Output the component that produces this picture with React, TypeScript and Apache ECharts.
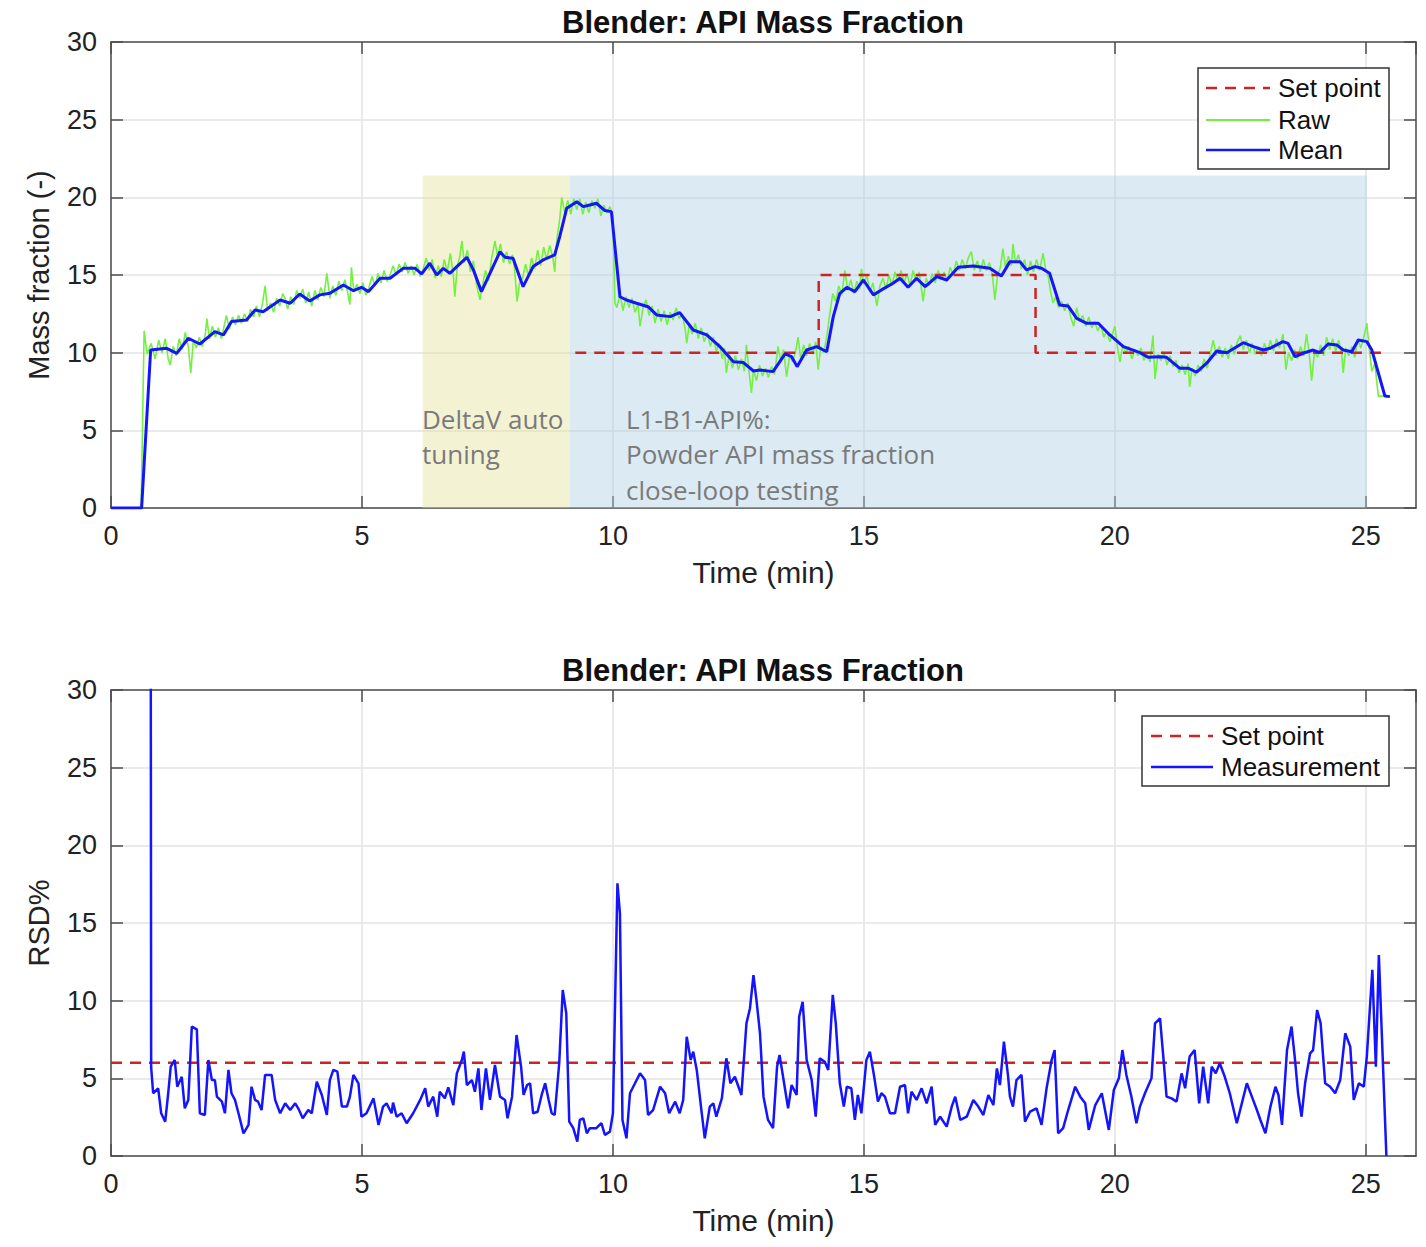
import React, { useEffect, useRef } from "react";
import * as echarts from "echarts";

// ---------------- DATA ----------------
const titleText = "Blender: API Mass Fraction";
const xTicks = [0, 5, 10, 15, 20, 25];
const yTicks = [0, 5, 10, 15, 20, 25, 30];

// Top chart: set point (time, value)
const setPointTop: [number, number][] = [
  [9.25, 10], [14.1, 10], [14.1, 15], [18.42, 15], [18.42, 10], [25.4, 10],
];

// Top chart: mean mass fraction (time, value)
const meanTop: [number, number][] = [
  [0, 0], [0.61, 0], [0.79, 10.17], [1.11, 10.28], [1.31, 9.96], [1.54, 10.93], [1.77, 10.56],
  [2.07, 11.35], [2.24, 11.14], [2.4, 12.0], [2.7, 12.1], [2.87, 12.75], [3.03, 12.64],
  [3.37, 13.39], [3.57, 13.18], [3.76, 13.78], [3.96, 13.33], [4.16, 13.72], [4.36, 13.82],
  [4.63, 14.36], [4.83, 13.99], [4.99, 14.21], [5.13, 13.93], [5.36, 14.79], [5.56, 14.79],
  [5.82, 15.43], [6.06, 15.43], [6.19, 15.07], [6.35, 15.76], [6.49, 15.0], [6.62, 15.43],
  [6.75, 15.11], [6.89, 15.54], [7.09, 16.14], [7.22, 15.33], [7.38, 13.93], [7.55, 15.11],
  [7.75, 16.5], [7.85, 16.14], [8.01, 16.08], [8.21, 14.25], [8.41, 15.54], [8.61, 15.97],
  [8.84, 16.29], [8.94, 17.47], [9.08, 19.3], [9.28, 19.72], [9.41, 19.4], [9.54, 19.51],
  [9.67, 19.62], [9.84, 19.15], [9.97, 19.08], [10.14, 13.6], [10.27, 13.39], [10.47, 13.18],
  [10.7, 12.96], [10.87, 12.43], [11.14, 12.32], [11.33, 12.58], [11.6, 11.46], [11.87, 11.14],
  [12.13, 10.39], [12.4, 9.42], [12.6, 9.36], [12.8, 8.82], [12.93, 8.89], [13.19, 8.78],
  [13.43, 9.92], [13.56, 9.74], [13.67, 9.1], [13.86, 10.17], [14.06, 10.39], [14.26, 10.06],
  [14.39, 12.32], [14.52, 13.82], [14.66, 14.21], [14.82, 13.93], [14.99, 14.68], [15.19, 13.72],
  [15.35, 14.04], [15.58, 14.47], [15.72, 14.79], [15.88, 14.21], [16.05, 14.79], [16.22, 14.25],
  [16.45, 14.9], [16.65, 14.68], [16.88, 15.5], [17.18, 15.58], [17.51, 15.43], [17.74, 14.94],
  [17.91, 15.86], [18.11, 15.86], [18.24, 15.33], [18.41, 15.54], [18.54, 15.43], [18.7, 15.11],
  [18.9, 13.07], [19.07, 13.0], [19.24, 12.21], [19.44, 11.89], [19.67, 11.89], [19.9, 11.14],
  [20.17, 10.39], [20.5, 10.0], [20.66, 9.7], [20.9, 9.74], [21.03, 9.7], [21.29, 9.0],
  [21.46, 9.0], [21.63, 8.74], [21.83, 9.32], [22.03, 10.11], [22.23, 10.0], [22.56, 10.64],
  [22.76, 10.39], [22.96, 10.17], [23.09, 10.28], [23.35, 10.71], [23.45, 10.6], [23.59, 9.74],
  [23.75, 9.96], [23.95, 10.17], [24.08, 10.0], [24.25, 10.56], [24.42, 10.5], [24.55, 10.17],
  [24.72, 10.06], [24.85, 10.82], [25.02, 10.71], [25.12, 10.17], [25.38, 7.21], [25.48, 7.17],
];

// Top chart: raw mass fraction (time, value)
const rawTop: [number, number][] = [
  [0, 0], [0.6, 0], [0.66, 11.4], [0.72, 9.9], [0.8, 10.6], [0.88, 9.6], [0.95, 10.8], [1.02, 10.0],
  [1.08, 10.9], [1.14, 9.6], [1.18, 9.2], [1.24, 10.4], [1.3, 9.8], [1.36, 10.9], [1.42, 10.2],
  [1.48, 11.3], [1.54, 10.4], [1.59, 8.7], [1.64, 10.8], [1.7, 10.3], [1.76, 11.0], [1.82, 10.4],
  [1.88, 11.2], [1.91, 12.2], [1.96, 10.9], [2.02, 11.7], [2.08, 11.0], [2.14, 11.6], [2.2, 10.9],
  [2.26, 11.8], [2.3, 12.4], [2.36, 11.5], [2.42, 12.3], [2.48, 11.8], [2.54, 12.4], [2.6, 11.9],
  [2.66, 12.5], [2.72, 12.0], [2.78, 12.8], [2.84, 12.3], [2.9, 13.0], [2.96, 12.3], [3.02, 13.2],
  [3.07, 14.3], [3.12, 12.7], [3.18, 13.2], [3.24, 12.6], [3.3, 13.5], [3.36, 13.0], [3.42, 13.8],
  [3.47, 13.5], [3.52, 12.8], [3.58, 13.6], [3.64, 13.1], [3.7, 14.0], [3.76, 13.5], [3.82, 14.1],
  [3.88, 13.2], [3.94, 13.9], [4.0, 13.0], [4.06, 14.0], [4.12, 13.4], [4.18, 14.2], [4.24, 13.6],
  [4.3, 15.1], [4.36, 13.5], [4.42, 14.3], [4.48, 13.7], [4.54, 14.6], [4.6, 14.0], [4.66, 14.7],
  [4.72, 13.8], [4.76, 13.1], [4.79, 15.5], [4.84, 13.9], [4.9, 14.4], [4.96, 13.8], [5.02, 14.5],
  [5.08, 13.7], [5.14, 14.2], [5.2, 14.9], [5.26, 14.3], [5.32, 15.1], [5.38, 14.5], [5.44, 15.3],
  [5.5, 14.6], [5.56, 15.0], [5.62, 15.6], [5.68, 15.0], [5.74, 15.7], [5.8, 15.2], [5.86, 15.8],
  [5.92, 15.1], [5.98, 15.6], [6.04, 15.0], [6.1, 15.7], [6.16, 14.9], [6.22, 15.4], [6.28, 16.1],
  [6.34, 15.3], [6.4, 16.0], [6.46, 14.8], [6.52, 15.6], [6.58, 14.9], [6.64, 16.0], [6.7, 15.2],
  [6.76, 16.4], [6.82, 15.0], [6.85, 13.6], [6.9, 15.6], [6.95, 16.2], [6.99, 17.2], [7.04, 15.8],
  [7.1, 16.6], [7.16, 15.2], [7.22, 15.9], [7.28, 14.4], [7.35, 13.4], [7.4, 14.3], [7.46, 15.3],
  [7.52, 14.6], [7.58, 16.0], [7.65, 17.2], [7.7, 16.2], [7.76, 17.0], [7.82, 15.8], [7.88, 16.5],
  [7.94, 15.7], [8.0, 16.3], [8.04, 15.4], [8.09, 13.3], [8.14, 14.5], [8.2, 14.8], [8.26, 15.7],
  [8.32, 14.9], [8.38, 16.1], [8.44, 15.4], [8.5, 16.6], [8.56, 15.6], [8.62, 16.8], [8.68, 16.0],
  [8.74, 16.9], [8.8, 16.2], [8.84, 15.2], [8.88, 17.2], [8.94, 18.6], [8.98, 20.0], [9.04, 19.0],
  [9.1, 19.8], [9.16, 18.9], [9.22, 19.9], [9.28, 19.2], [9.34, 19.9], [9.4, 18.9], [9.46, 19.7],
  [9.52, 19.0], [9.58, 19.8], [9.64, 19.3], [9.7, 19.9], [9.76, 18.8], [9.82, 19.5], [9.88, 19.0],
  [9.94, 19.4], [10.0, 18.8], [10.04, 13.2], [10.08, 12.9], [10.14, 13.8], [10.2, 12.7], [10.26, 13.6],
  [10.32, 12.9], [10.38, 13.5], [10.44, 12.6], [10.5, 13.1], [10.54, 11.7], [10.6, 12.9], [10.66, 13.4],
  [10.72, 12.4], [10.78, 13.0], [10.84, 11.9], [10.9, 12.8], [10.96, 12.0], [11.02, 12.7], [11.08, 11.8],
  [11.14, 12.6], [11.2, 12.1], [11.26, 12.9], [11.32, 12.2], [11.38, 12.5], [11.44, 11.5], [11.47, 10.6],
  [11.52, 11.8], [11.58, 11.2], [11.64, 11.9], [11.7, 10.9], [11.76, 11.6], [11.82, 10.7], [11.88, 11.3],
  [11.94, 10.4], [12.0, 11.0], [12.06, 10.1], [12.12, 10.6], [12.18, 9.6], [12.22, 10.3], [12.26, 8.7],
  [12.32, 9.9], [12.38, 9.0], [12.44, 9.8], [12.5, 8.9], [12.56, 9.6], [12.62, 8.8], [12.66, 10.5],
  [12.7, 9.1], [12.76, 7.4], [12.8, 8.9], [12.86, 8.2], [12.92, 9.2], [12.98, 8.5], [13.04, 9.0],
  [13.1, 8.4], [13.16, 9.1], [13.22, 8.6], [13.29, 10.4], [13.34, 9.5], [13.4, 10.2], [13.46, 8.45],
  [13.52, 9.8], [13.58, 9.4], [13.64, 10.1], [13.69, 11.0], [13.74, 9.6], [13.8, 10.5], [13.86, 9.8],
  [13.92, 10.6], [13.98, 9.9], [14.04, 10.7], [14.09, 8.9], [14.14, 10.4], [14.2, 10.0], [14.26, 11.0],
  [14.32, 12.5], [14.38, 13.8], [14.44, 13.3], [14.5, 14.3], [14.56, 13.7], [14.62, 15.3], [14.68, 14.0],
  [14.74, 14.7], [14.8, 13.8], [14.86, 14.6], [14.92, 14.1], [14.95, 15.4], [15.0, 14.4], [15.06, 15.0],
  [15.12, 13.9], [15.18, 14.5], [15.26, 13.0], [15.32, 14.3], [15.38, 14.8], [15.44, 14.1], [15.5, 15.0],
  [15.56, 14.3], [15.62, 15.2], [15.68, 14.6], [15.74, 15.3], [15.8, 14.5], [15.86, 15.1], [15.92, 14.3],
  [15.98, 15.3], [16.04, 14.6], [16.1, 15.2], [16.18, 13.3], [16.24, 14.8], [16.3, 14.3], [16.36, 15.1],
  [16.42, 14.5], [16.48, 15.3], [16.54, 14.7], [16.6, 15.2], [16.66, 14.6], [16.72, 15.5], [16.78, 15.0],
  [16.84, 15.9], [16.9, 15.3], [16.96, 16.0], [17.02, 15.4], [17.08, 16.1], [17.14, 16.5], [17.2, 15.3],
  [17.26, 15.9], [17.32, 15.2], [17.38, 16.0], [17.44, 15.3], [17.5, 15.8], [17.56, 15.0], [17.61, 13.4],
  [17.66, 14.9], [17.72, 15.5], [17.77, 16.7], [17.82, 15.5], [17.88, 16.2], [17.94, 15.6], [17.97, 17.0],
  [18.02, 15.8], [18.08, 16.3], [18.14, 15.4], [18.2, 16.0], [18.26, 15.0], [18.32, 15.9], [18.38, 15.2],
  [18.44, 16.0], [18.5, 15.3], [18.57, 16.4], [18.62, 15.4], [18.68, 14.8], [18.72, 13.9], [18.77, 13.2],
  [18.82, 13.6], [18.88, 12.9], [18.94, 13.3], [19.0, 12.7], [19.06, 13.2], [19.12, 12.3], [19.18, 11.7],
  [19.24, 12.9], [19.3, 12.0], [19.36, 12.4], [19.42, 11.7], [19.48, 12.3], [19.54, 11.6], [19.6, 12.0],
  [19.66, 11.4], [19.72, 11.8], [19.78, 11.0], [19.84, 11.4], [19.9, 10.7], [19.95, 11.2], [20.0, 11.7],
  [20.05, 10.4], [20.1, 9.4], [20.16, 10.5], [20.22, 10.0], [20.28, 10.4], [20.34, 9.6], [20.4, 10.2],
  [20.46, 9.8], [20.52, 10.3], [20.58, 9.5], [20.64, 10.0], [20.7, 9.4], [20.76, 11.1], [20.8, 8.3],
  [20.86, 9.9], [20.92, 9.5], [20.98, 10.0], [21.04, 9.2], [21.1, 9.8], [21.16, 9.1], [21.22, 9.5],
  [21.28, 8.7], [21.34, 9.2], [21.4, 8.6], [21.46, 9.3], [21.49, 7.8], [21.54, 9.0], [21.6, 8.5],
  [21.66, 9.2], [21.72, 8.8], [21.78, 9.6], [21.84, 9.0], [21.9, 9.9], [21.96, 10.8], [22.02, 9.8],
  [22.08, 10.4], [22.14, 9.7], [22.2, 10.3], [22.26, 9.6], [22.32, 10.5], [22.38, 9.9], [22.44, 10.7],
  [22.5, 11.1], [22.56, 10.2], [22.62, 10.8], [22.68, 10.0], [22.74, 10.6], [22.8, 9.9], [22.86, 10.4],
  [22.92, 9.8], [22.98, 10.6], [23.04, 10.0], [23.1, 10.8], [23.16, 10.1], [23.22, 10.9], [23.28, 10.3],
  [23.35, 11.2], [23.41, 8.9], [23.46, 10.0], [23.52, 9.5], [23.58, 10.2], [23.64, 9.6], [23.7, 10.4],
  [23.76, 9.8], [23.82, 11.2], [23.87, 10.0], [23.92, 8.2], [23.98, 10.1], [24.04, 9.7], [24.1, 10.5],
  [24.16, 9.8], [24.22, 11.0], [24.28, 10.2], [24.34, 10.9], [24.4, 10.1], [24.46, 10.8], [24.52, 9.9],
  [24.55, 8.7], [24.6, 10.3], [24.66, 9.8], [24.72, 10.4], [24.78, 9.7], [24.84, 10.9], [24.9, 10.3],
  [24.96, 11.0], [25.02, 11.9], [25.07, 10.2], [25.12, 8.8], [25.18, 9.3], [25.25, 7.2], [25.44, 7.2],
];

// Shaded test phases (time start, time end, top value)
const phaseAutoTuning = [6.21, 9.14, 21.4];
const phaseCloseLoop = [9.14, 25.02, 21.4];

// Bottom chart: RSD set point and measurement
const setPointBottom: [number, number][] = [[0, 6], [25.48, 6]];
const rsdMeasurement: [number, number][] = [
  [0.79, 40], [0.8, 5.7], [0.84, 4.04], [0.94, 4.36], [1.0, 2.75], [1.08, 2.21], [1.14, 4.04],
  [1.19, 5.75], [1.27, 6.18], [1.32, 4.46], [1.41, 5.1], [1.47, 3.07], [1.54, 3.6], [1.61, 8.33],
  [1.71, 8.15], [1.77, 2.75], [1.87, 2.64], [1.94, 6.18], [2.01, 4.89], [2.07, 4.89], [2.11, 3.82],
  [2.21, 3.5], [2.27, 2.75], [2.34, 5.54], [2.4, 4.04], [2.47, 3.61], [2.54, 2.75], [2.64, 1.46],
  [2.74, 2.0], [2.8, 4.46], [2.87, 3.61], [2.93, 3.5], [3.0, 2.96], [3.07, 5.22], [3.2, 5.22],
  [3.27, 3.61], [3.37, 2.75], [3.47, 3.39], [3.57, 2.96], [3.67, 3.39], [3.73, 3.07], [3.82, 2.43],
  [3.93, 2.96], [4.0, 2.75], [4.1, 4.79], [4.2, 3.93], [4.3, 2.64], [4.36, 4.89], [4.43, 5.54],
  [4.51, 5.43], [4.6, 3.18], [4.7, 3.18], [4.76, 3.82], [4.83, 5.22], [4.93, 4.68], [4.99, 2.53],
  [5.09, 2.75], [5.23, 3.71], [5.33, 2.0], [5.42, 3.18], [5.49, 3.39], [5.59, 2.75], [5.62, 3.44],
  [5.69, 2.53], [5.79, 2.75], [5.89, 2.11], [6.02, 2.75], [6.16, 3.61], [6.26, 4.36], [6.32, 3.18],
  [6.42, 3.82], [6.5, 2.53], [6.55, 4.14], [6.65, 3.71], [6.72, 4.42], [6.82, 3.28], [6.89, 5.32],
  [6.99, 6.18], [7.03, 6.72], [7.09, 4.57], [7.19, 4.89], [7.25, 4.14], [7.32, 5.64], [7.38, 2.96],
  [7.47, 5.64], [7.55, 3.61], [7.65, 5.86], [7.75, 3.82], [7.85, 3.61], [7.9, 2.43], [7.99, 3.82],
  [8.08, 7.79], [8.17, 5.75], [8.22, 3.93], [8.29, 4.57], [8.35, 4.68], [8.41, 2.75], [8.5, 2.85],
  [8.58, 3.93], [8.65, 4.68], [8.72, 3.61], [8.78, 2.75], [8.84, 2.64], [8.93, 5.97], [9.0, 10.69],
  [9.07, 9.2], [9.13, 2.21], [9.21, 1.79], [9.29, 0.92], [9.34, 2.32], [9.41, 2.43], [9.48, 1.46],
  [9.54, 1.79], [9.67, 1.79], [9.77, 2.11], [9.84, 1.36], [9.94, 1.57], [10.0, 2.75], [10.09, 17.56],
  [10.14, 15.6], [10.19, 2.32], [10.27, 1.14], [10.34, 4.04], [10.44, 4.68], [10.54, 5.32], [10.64, 4.89],
  [10.7, 2.64], [10.8, 2.96], [10.94, 4.46], [11.04, 4.04], [11.12, 2.75], [11.24, 3.5], [11.33, 2.75],
  [11.4, 3.61], [11.47, 7.68], [11.55, 6.18], [11.6, 6.72], [11.67, 5.54], [11.77, 2.75], [11.83, 1.14],
  [11.93, 3.18], [12.0, 3.39], [12.06, 2.53], [12.17, 3.71], [12.26, 6.29], [12.34, 4.68], [12.43, 5.1],
  [12.56, 3.93], [12.66, 8.54], [12.73, 9.5], [12.8, 11.65], [12.86, 10.04], [12.93, 7.9], [13.0, 3.82],
  [13.09, 2.32], [13.19, 1.79], [13.27, 5.75], [13.32, 6.5], [13.4, 4.89], [13.49, 3.07], [13.56, 4.57],
  [13.66, 3.93], [13.71, 8.97], [13.78, 9.93], [13.86, 6.18], [13.96, 4.89], [14.04, 2.53], [14.12, 6.29],
  [14.22, 6.07], [14.29, 5.54], [14.38, 10.37], [14.44, 8.54], [14.52, 4.68], [14.6, 3.18], [14.66, 4.46],
  [14.75, 4.36], [14.82, 2.32], [14.88, 3.93], [14.95, 2.75], [15.05, 6.18], [15.12, 6.72], [15.2, 5.22],
  [15.28, 3.5], [15.35, 4.04], [15.42, 3.82], [15.52, 2.75], [15.62, 2.75], [15.72, 4.46], [15.82, 4.57],
  [15.88, 2.75], [15.95, 4.14], [16.05, 3.61], [16.15, 4.36], [16.25, 3.39], [16.35, 4.46], [16.42, 2.0],
  [16.52, 2.53], [16.65, 1.89], [16.75, 3.18], [16.82, 3.82], [16.92, 2.32], [17.05, 2.53], [17.18, 3.61],
  [17.28, 3.18], [17.38, 2.64], [17.48, 3.93], [17.58, 3.28], [17.65, 5.64], [17.71, 4.57], [17.79, 7.36],
  [17.87, 5.22], [17.91, 3.82], [17.97, 3.18], [18.04, 4.89], [18.14, 5.22], [18.21, 2.21], [18.31, 2.85],
  [18.44, 3.07], [18.54, 2.0], [18.64, 4.36], [18.74, 6.18], [18.8, 6.82], [18.87, 1.46], [18.97, 1.79],
  [19.07, 2.96], [19.21, 4.46], [19.31, 3.82], [19.41, 3.39], [19.48, 1.68], [19.61, 3.28], [19.74, 4.04],
  [19.88, 1.68], [19.98, 4.25], [20.08, 5.0], [20.15, 6.82], [20.23, 5.22], [20.33, 3.82], [20.43, 2.11],
  [20.5, 3.18], [20.6, 4.04], [20.73, 5.0], [20.8, 8.54], [20.9, 8.86], [20.96, 6.61], [21.03, 3.82],
  [21.13, 3.71], [21.23, 3.5], [21.33, 5.32], [21.4, 4.36], [21.49, 6.4], [21.59, 6.82], [21.68, 3.39],
  [21.76, 5.75], [21.86, 3.39], [21.93, 5.75], [22.01, 5.32], [22.09, 5.97], [22.19, 5.1], [22.29, 4.04],
  [22.43, 2.11], [22.53, 3.39], [22.63, 4.68], [22.73, 3.82], [22.83, 2.96], [22.9, 2.32], [23.0, 1.46],
  [23.1, 3.18], [23.2, 4.46], [23.26, 3.93], [23.33, 2.0], [23.43, 6.82], [23.52, 8.33], [23.59, 6.18],
  [23.65, 4.04], [23.72, 2.53], [23.79, 4.68], [23.89, 6.61], [23.95, 6.82], [24.03, 9.4], [24.1, 8.54],
  [24.19, 4.68], [24.29, 4.46], [24.39, 4.04], [24.49, 4.89], [24.59, 7.9], [24.69, 7.04], [24.76, 3.61],
  [24.86, 4.68], [24.96, 4.46], [25.02, 6.4], [25.13, 11.98], [25.2, 5.75], [25.26, 12.94], [25.41, 0],
];

// ---------------- STYLE ----------------
const FONT = '"Liberation Sans", Arial, Helvetica, sans-serif';
const NOTE_FONT = '"Open Sans", Lato, sans-serif';
const AXIS_COLOR = "#4d4d4d";
const GRID_COLOR = "#e3e3e3";
const RED = "#cc2424";
const BLUE = "#1414ff";
const GREEN = "#74f040";

const GRID_LEFT = 111;
const GRID_RIGHT = 10;
const PLOT_H = 466;
const TOP1 = 42;
const TOP2 = 690;

function makeAxes(gridIndex: number, yName: string) {
  const line = { show: true, onZero: false, lineStyle: { color: AXIS_COLOR, width: 1.5 } };
  const tick = { show: true, inside: true, length: 12, lineStyle: { color: AXIS_COLOR, width: 1.5 } };
  const xMain = {
    type: "value", gridIndex, min: 0, max: 26, interval: 5, position: "bottom",
    axisLine: line, axisTick: tick,
    axisLabel: { show: true, margin: 14, fontSize: 27, color: "#222", fontFamily: FONT, showMaxLabel: false,
      formatter: (v: number) => (xTicks.includes(v) ? String(v) : "") },
    splitLine: { show: true, lineStyle: { color: GRID_COLOR, width: 1.5 } },
    name: "Time (min)", nameLocation: "middle", nameGap: 49,
    nameTextStyle: { fontSize: 30, color: "#222", fontFamily: FONT },
  };
  const xTop = {
    type: "value", gridIndex, min: 0, max: 26, interval: 5, position: "top",
    axisLine: line, axisTick: tick, axisLabel: { show: false }, splitLine: { show: false },
  };
  const yMain = {
    type: "value", gridIndex, min: 0, max: 30, interval: 5, position: "left",
    axisLine: line, axisTick: tick,
    axisLabel: { show: true, margin: 14, fontSize: 27, color: "#222", fontFamily: FONT,
      formatter: (v: number) => (yTicks.includes(v) ? String(v) : "") },
    splitLine: { show: true, lineStyle: { color: GRID_COLOR, width: 1.5 } },
    name: yName, nameLocation: "middle", nameGap: 58, nameRotate: 90,
    nameTextStyle: { fontSize: 29, color: "#222", fontFamily: FONT },
  };
  const yRight = {
    type: "value", gridIndex, min: 0, max: 30, interval: 5, position: "right",
    axisLine: line, axisTick: tick, axisLabel: { show: false }, splitLine: { show: false },
  };
  return { x: [xMain, xTop], y: [yMain, yRight] };
}

function legendBox(
  left: number, top: number, width: number, height: number,
  items: { label: string; color: string; dashed: boolean; y: number }[],
  lineX1: number, lineX2: number, textX: number,
) {
  const children: any[] = [
    { type: "rect", shape: { x: left, y: top, width, height },
      style: { fill: "#ffffff", stroke: "#333333", lineWidth: 1.5 }, z: 100 },
  ];
  items.forEach((it) => {
    children.push({
      type: "line", shape: { x1: lineX1, y1: it.y, x2: lineX2, y2: it.y },
      style: { stroke: it.color, lineWidth: it.color === GREEN ? 2 : 2.5, lineDash: it.dashed ? [11, 8] : null },
      z: 101,
    });
    children.push({
      type: "text", x: textX, y: it.y,
      style: { text: it.label, font: `26px ${FONT}`, fill: "#111", textVerticalAlign: "middle", textAlign: "left" },
      z: 101,
    });
  });
  return children;
}

export default function App() {
  const ref = useRef<HTMLDivElement>(null);

  useEffect(() => {
    if (!ref.current) return;
    const chart = echarts.init(ref.current, null, { renderer: "svg" });
    const a1 = makeAxes(0, "Mass fraction (-)");
    const a2 = makeAxes(1, "RSD%");

    const option: any = {
      animation: false,
      backgroundColor: "#ffffff",
      grid: [
        { left: GRID_LEFT, right: GRID_RIGHT, top: TOP1, height: PLOT_H, containLabel: false },
        { left: GRID_LEFT, right: GRID_RIGHT, top: TOP2, height: PLOT_H, containLabel: false },
      ],
      xAxis: [...a1.x, ...a2.x],
      yAxis: [...a1.y, ...a2.y],
      series: [
        {
          name: "phases", type: "line", xAxisIndex: 0, yAxisIndex: 0, data: [], z: 1, silent: true,
          markArea: {
            silent: true,
            label: { show: false },
            data: [
              [
                { xAxis: phaseAutoTuning[0], yAxis: 0, itemStyle: { color: "rgba(226,226,150,0.42)" } },
                { xAxis: phaseAutoTuning[1], yAxis: phaseAutoTuning[2] },
              ],
              [
                { xAxis: phaseCloseLoop[0], yAxis: 0, itemStyle: { color: "rgba(170,204,226,0.42)" } },
                { xAxis: phaseCloseLoop[1], yAxis: phaseCloseLoop[2] },
              ],
            ],
          },
        },
        {
          name: "Raw", type: "line", xAxisIndex: 0, yAxisIndex: 0, data: rawTop, showSymbol: false,
          lineStyle: { color: GREEN, width: 1.6 }, z: 3, silent: true,
        },
        {
          name: "Set point", type: "line", xAxisIndex: 0, yAxisIndex: 0, data: setPointTop, showSymbol: false,
          lineStyle: { color: RED, width: 2.5, type: [11, 8] }, z: 4, silent: true,
        },
        {
          name: "Mean", type: "line", xAxisIndex: 0, yAxisIndex: 0, data: meanTop, showSymbol: false,
          lineStyle: { color: BLUE, width: 3 }, z: 5, silent: true,
        },
        {
          name: "Set point RSD", type: "line", xAxisIndex: 2, yAxisIndex: 2, data: setPointBottom, showSymbol: false,
          lineStyle: { color: RED, width: 2.5, type: [11, 8] }, z: 4, silent: true,
        },
        {
          name: "Measurement", type: "line", xAxisIndex: 2, yAxisIndex: 2, data: rsdMeasurement, showSymbol: false,
          lineStyle: { color: BLUE, width: 2.5 }, z: 5, silent: true, clip: true,
        },
      ],
      graphic: [
        { type: "text", x: 763, y: 22, style: { text: titleText, font: `bold 31px ${FONT}`, fill: "#111",
          textAlign: "center", textVerticalAlign: "middle" } },
        { type: "text", x: 763, y: 670, style: { text: titleText, font: `bold 31px ${FONT}`, fill: "#111",
          textAlign: "center", textVerticalAlign: "middle" } },
        { type: "text", x: 422, y: 401, z: 50, style: { text: "DeltaV auto\ntuning",
          font: `26px ${NOTE_FONT}`, fill: "#7a7a7a", lineHeight: 35.5 } },
        { type: "text", x: 626, y: 401, z: 50, style: { text: "L1-B1-API%:\nPowder API mass fraction\nclose-loop testing",
          font: `26px ${NOTE_FONT}`, fill: "#7a7a7a", lineHeight: 35.5 } },
        ...legendBox(1198, 68, 191, 101, [
          { label: "Set point", color: RED, dashed: true, y: 88 },
          { label: "Raw", color: GREEN, dashed: false, y: 120 },
          { label: "Mean", color: BLUE, dashed: false, y: 150 },
        ], 1206, 1270, 1278),
        ...legendBox(1142, 716, 247, 70, [
          { label: "Set point", color: RED, dashed: true, y: 736 },
          { label: "Measurement", color: BLUE, dashed: false, y: 767 },
        ], 1151, 1213, 1221),
      ],
    };
    chart.setOption(option);
    return () => chart.dispose();
  }, []);

  return (
    <div
      ref={ref}
      style={{ position: "absolute", left: 0, top: 0, width: 1426, height: 1247, background: "#fff" }}
    />
  );
}
